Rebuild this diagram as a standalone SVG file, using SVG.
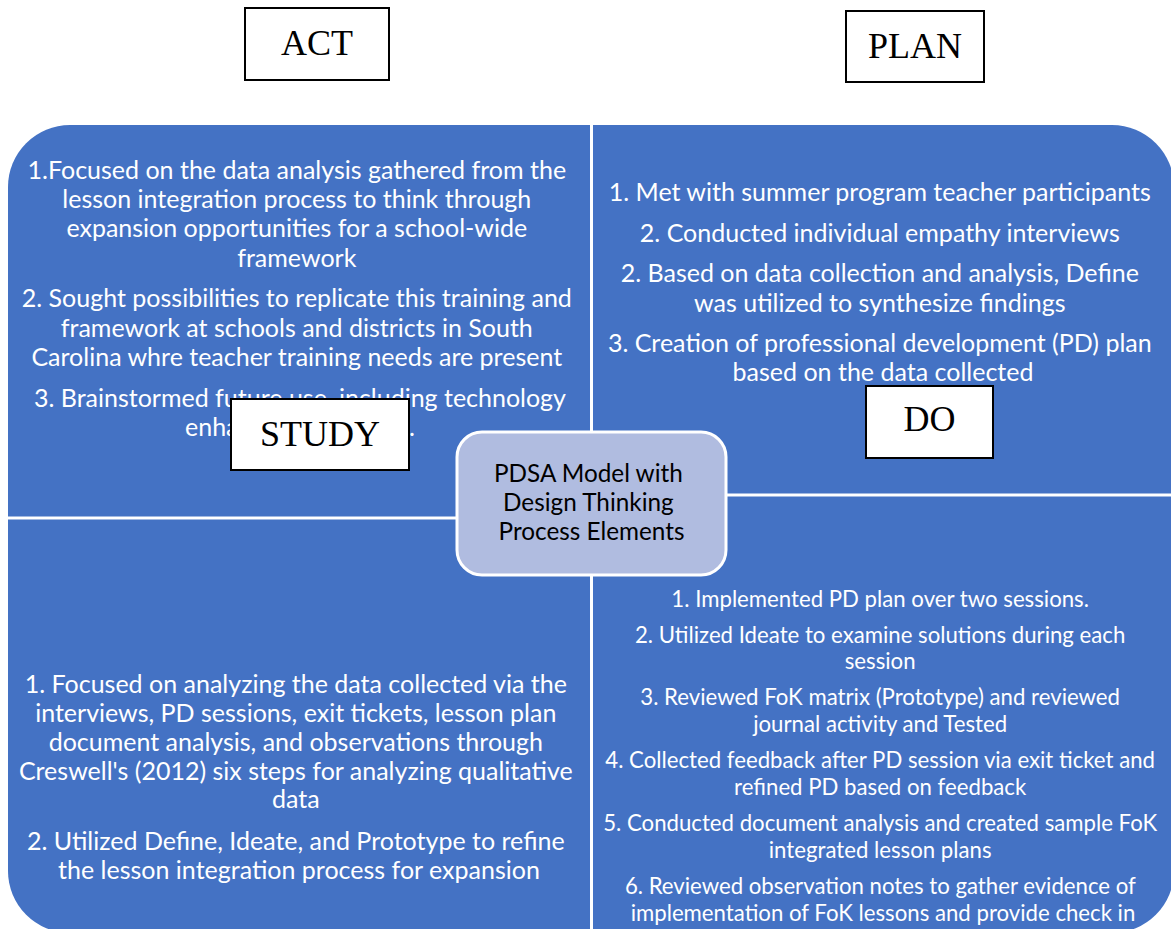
<svg xmlns="http://www.w3.org/2000/svg" width="1171" height="929" viewBox="0 0 1171 929">
  <style>
    .quad { fill: #4472C4; }
    .qtext { font-family: Lato, "Liberation Sans", sans-serif; font-size: 25px; fill: #FFFFFF; text-anchor: middle; }
    .qtext.small { font-size: 22.2px; }
    .qtext .lead { text-anchor: start; }
    .hub { fill: #B0BCE0; stroke: #FFFFFF; stroke-width: 3; }
    .hubtext { font-family: Lato, "Liberation Sans", sans-serif; font-size: 24.3px; fill: #000000; text-anchor: middle; }
    .tag { fill: #FFFFFF; stroke: #000000; stroke-width: 2; }
    .tagtext { font-family: "Liberation Serif", "Times New Roman", serif; font-size: 36px; fill: #000000; text-anchor: middle; }
  </style>

  <rect width="1171" height="929" fill="#FFFFFF"/>

  <!-- Quadrant: top-left (ACT) -->
  <g id="quad-act">
    <path class="quad" d="M 8,187 A 62 62 0 0 1 70,125 L 590,125 L 590,516.5 L 8,516.5 Z"/>
    <text class="qtext">
      <tspan x="300" y="179">1.Focused on the data analysis gathered from the</tspan>
      <tspan x="300" y="208">lesson integration process to think through</tspan>
      <tspan x="300" y="237">expansion opportunities for a school-wide</tspan>
      <tspan x="300" y="267">framework</tspan>
      <tspan x="300" y="307">2. Sought possibilities to replicate this training and</tspan>
      <tspan x="300" y="337">framework at schools and districts in South</tspan>
      <tspan x="300" y="366">Carolina whre teacher training needs are present</tspan>
      <tspan x="300" y="407">3. Brainstormed future use, including technology</tspan>
    </text>
    <!-- last line runs under the STUDY tag; only its ends show -->
    <text class="qtext" text-anchor="start" style="text-anchor:start">
      <tspan x="185" y="436">enha</tspan>
      <tspan x="409" y="436">.</tspan>
    </text>
  </g>

  <!-- Quadrant: top-right (PLAN) -->
  <g id="quad-plan">
    <path class="quad" d="M 593,125 L 1112,125 A 62 62 0 0 1 1174,187 L 1174,493.5 L 593,493.5 Z"/>
    <text class="qtext">
      <tspan x="883" y="201">1. Met with summer program teacher participants</tspan>
      <tspan x="883" y="242">2. Conducted individual empathy interviews</tspan>
      <tspan x="883" y="282">2. Based on data collection and analysis, Define</tspan>
      <tspan x="883" y="312">was utilized to synthesize findings</tspan>
      <tspan x="883" y="352">3. Creation of professional development (PD) plan</tspan>
      <tspan x="883" y="381">based on the data collected</tspan>
    </text>
  </g>

  <!-- Quadrant: bottom-left (STUDY) -->
  <g id="quad-study">
    <path class="quad" d="M 8,519.5 L 590,519.5 L 590,933 L 70,933 A 62 62 0 0 1 8,871 Z"/>
    <text class="qtext">
      <tspan x="299" y="693">1. Focused on analyzing the data collected via the</tspan>
      <tspan x="299" y="722">interviews, PD sessions, exit tickets, lesson plan</tspan>
      <tspan x="299" y="751">document analysis, and observations through</tspan>
      <tspan x="299" y="780">Creswell's (2012) six steps for analyzing qualitative</tspan>
      <tspan x="299" y="808">data</tspan>
      <tspan x="299" y="850">2. Utilized Define, Ideate, and Prototype to refine</tspan>
      <tspan x="299" y="879">the lesson integration process for expansion</tspan>
    </text>
  </g>

  <!-- Quadrant: bottom-right (DO) -->
  <g id="quad-do">
    <path class="quad" d="M 593,496.5 L 1174,496.5 L 1174,871 A 62 62 0 0 1 1112,933 L 593,933 Z"/>
    <text class="qtext small">
      <tspan x="883" y="607">1. Implemented PD plan over two sessions.</tspan>
      <tspan x="883" y="643">2. Utilized Ideate to examine solutions during each</tspan>
      <tspan x="883" y="669">session</tspan>
      <tspan x="883" y="705">3. Reviewed FoK matrix (Prototype) and reviewed</tspan>
      <tspan x="883" y="732">journal activity and Tested</tspan>
      <tspan x="883" y="768">4. Collected feedback after PD session via exit ticket and</tspan>
      <tspan x="883" y="795">refined PD based on feedback</tspan>
      <tspan x="883" y="831">5. Conducted document analysis and created sample FoK</tspan>
      <tspan x="883" y="858">integrated lesson plans</tspan>
      <tspan x="883" y="894">6. Reviewed observation notes to gather evidence of</tspan>
      <tspan x="883" y="921">implementation of FoK lessons and provide check in</tspan>
    </text>
  </g>

  <!-- Central hub -->
  <g id="hub">
    <rect class="hub" x="457" y="432" width="269" height="143" rx="25" ry="25"/>
    <text class="hubtext">
      <tspan x="591.5" y="482">PDSA Model with</tspan>
      <tspan x="591.5" y="511">Design Thinking</tspan>
      <tspan x="591.5" y="540">Process Elements</tspan>
    </text>
  </g>

  <!-- Phase labels -->
  <g id="label-act">
    <rect class="tag" x="245" y="8" width="144" height="72"/>
    <text class="tagtext" x="317" y="55">ACT</text>
  </g>
  <g id="label-plan">
    <rect class="tag" x="846" y="11" width="138" height="71"/>
    <text class="tagtext" x="915" y="58">PLAN</text>
  </g>
  <g id="label-study">
    <rect class="tag" x="231" y="399" width="178" height="71"/>
    <text class="tagtext" x="320" y="446">STUDY</text>
  </g>
  <g id="label-do">
    <rect class="tag" x="866" y="386" width="127" height="72"/>
    <text class="tagtext" x="929.5" y="431">DO</text>
  </g>
</svg>
